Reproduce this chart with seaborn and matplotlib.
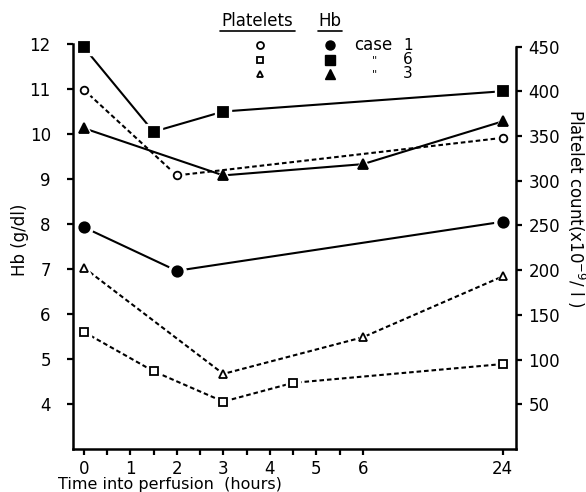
import numpy as np
import pandas as pd
import matplotlib
matplotlib.use("Agg")
import matplotlib.pyplot as plt
from matplotlib.lines import Line2D
import seaborn as sns

# time axis: 0..6 h linear, then 24 h squeezed in at position 9
tick_hours = [0, 1, 2, 3, 4, 5, 6, 24]
tick_labels = ["0", "1", "2", "3", "4", "5", "6", "24"]

# Hb (g/dl), filled markers, solid lines
hb_case1_t = [0, 2, 24]
hb_case1 = [7.93, 6.96, 8.05]
hb_case6_t = [0, 1.5, 3, 24]
hb_case6 = [11.93, 10.05, 10.5, 10.95]
hb_case3_t = [0, 3, 6, 24]
hb_case3 = [10.13, 9.08, 9.33, 10.28]

# platelets (x10^9/l), open markers, dotted lines
plt_case1_t = [0, 2, 24]
plt_case1 = [402, 306, 348]
plt_case6_t = [0, 1.5, 3, 4.5, 24]
plt_case6 = [131, 87, 53, 74, 95]
plt_case3_t = [0, 3, 6, 24]
plt_case3 = [203, 84, 125, 193]


def tpos(h):
    h = np.asarray(h, dtype=float)
    return np.where(h <= 6, h, 6 + (h - 6) / 6.0)


sns.set_style("ticks")
plt.rcParams["font.family"] = ["DejaVu Sans"]
plt.rcParams["font.size"] = 12
plt.rcParams["text.color"] = "black"
plt.rcParams["xtick.color"] = "black"
plt.rcParams["ytick.color"] = "black"
plt.rcParams["axes.edgecolor"] = "black"

W, H = 586, 492
fig = plt.figure(figsize=(W / 100, H / 100), dpi=100)
ax = fig.add_axes([73 / W, 1 - 449 / H, (516 - 73) / W, (449 - 44) / H])
ax2 = ax.twinx()


def draw(axis, t, y, marker, ms, filled, dotted):
    df = pd.DataFrame({"x": tpos(t), "y": y})
    ls = (0, (2.2, 1.4)) if dotted else "-"
    sns.lineplot(data=df, x="x", y="y", ax=axis, color="black", lw=1.5,
                 linestyle=ls, sort=False, legend=False)
    # white backing so the line stops short of the marker
    axis.plot(df["x"], df["y"], ls="none", marker=marker, ms=ms + 5,
              mfc="white", mec="white", zorder=4, clip_on=False)
    axis.plot(df["x"], df["y"], ls="none", marker=marker, ms=ms,
              mfc="black" if filled else "white", mec="black", mew=1.3,
              zorder=5, clip_on=False)


draw(ax, hb_case1_t, hb_case1, "o", 7.5, True, False)
draw(ax, hb_case6_t, hb_case6, "s", 6.5, True, False)
draw(ax, hb_case3_t, hb_case3, "^", 7, True, False)
draw(ax2, plt_case1_t, plt_case1, "o", 5.5, False, True)
draw(ax2, plt_case6_t, plt_case6, "s", 5.5, False, True)
draw(ax2, plt_case3_t, plt_case3, "^", 5.5, False, True)

ax.set_xlim(-0.23, 9.29)
ax.set_ylim(3, 12)
ax2.set_ylim(0, 453)

ax.set_xticks(tpos(tick_hours))
ax.set_xticklabels(tick_labels)
ax.set_xticks(np.arange(0.5, 6, 1.0), minor=True)
ax.set_yticks(range(4, 13))
ax2.set_yticks(range(50, 451, 50))

for a in (ax, ax2):
    a.spines["top"].set_visible(False)
    for s in a.spines.values():
        s.set_linewidth(1.8)
    a.set_xlabel("")
    a.set_ylabel("")
ax.spines["right"].set_visible(False)
ax2.spines["left"].set_visible(False)
ax2.spines["bottom"].set_visible(False)
ax2.spines["right"].set_bounds(0, 450)

ax.tick_params(axis="x", which="both", direction="out", length=4, width=1.6,
               pad=4, labelsize=12)
ax.tick_params(axis="y", direction="out", length=4, width=1.6, pad=12,
               labelsize=12)
ax2.tick_params(axis="y", direction="out", length=4, width=1.6, pad=5,
                labelsize=12)

# axis titles
fig.text(20 / W, 1 - 240 / H, "Hb (g/dl)", rotation=90, ha="center",
         va="center", fontsize=12)
fig.text(576 / W, 1 - 208 / H, "Platelet count(x10$^{-9}$/ l )",
         rotation=270, ha="center", va="center", fontsize=12)
fig.text(58 / W, 1 - 484 / H, "Time into perfusion  (hours)", ha="left",
         va="center", fontsize=11.5)

# key drawn at the top
fig.text(257 / W, 1 - 21 / H, "Platelets", ha="center", va="center",
         fontsize=12)
fig.text(330 / W, 1 - 21 / H, "Hb", ha="center", va="center", fontsize=12)
for x0, x1 in [(220, 295), (318, 342)]:
    fig.add_artist(Line2D([x0 / W, x1 / W], [1 - 31 / H, 1 - 31 / H],
                          color="black", lw=1.2))

key_rows = [("o", 45, "1"), ("s", 60, "6"), ("^", 74, "3")]
for mk, yy, lab in key_rows:
    fig.add_artist(Line2D([260 / W], [1 - yy / H], ls="none", marker=mk,
                          ms=5, mfc="white", mec="black", mew=1.3))
    fig.add_artist(Line2D([330 / W], [1 - yy / H], ls="none", marker=mk,
                          ms=6.5, mfc="black", mec="black"))
    if lab == "1":
        fig.text(354 / W, 1 - yy / H, "case", ha="left", va="center",
                 fontsize=12)
    else:
        fig.text(372 / W, 1 - yy / H, "''", ha="left", va="center", fontsize=8)
    fig.text(408 / W, 1 - yy / H, lab, ha="center", va="center", fontsize=11)

fig.savefig("out.png", dpi=100)
